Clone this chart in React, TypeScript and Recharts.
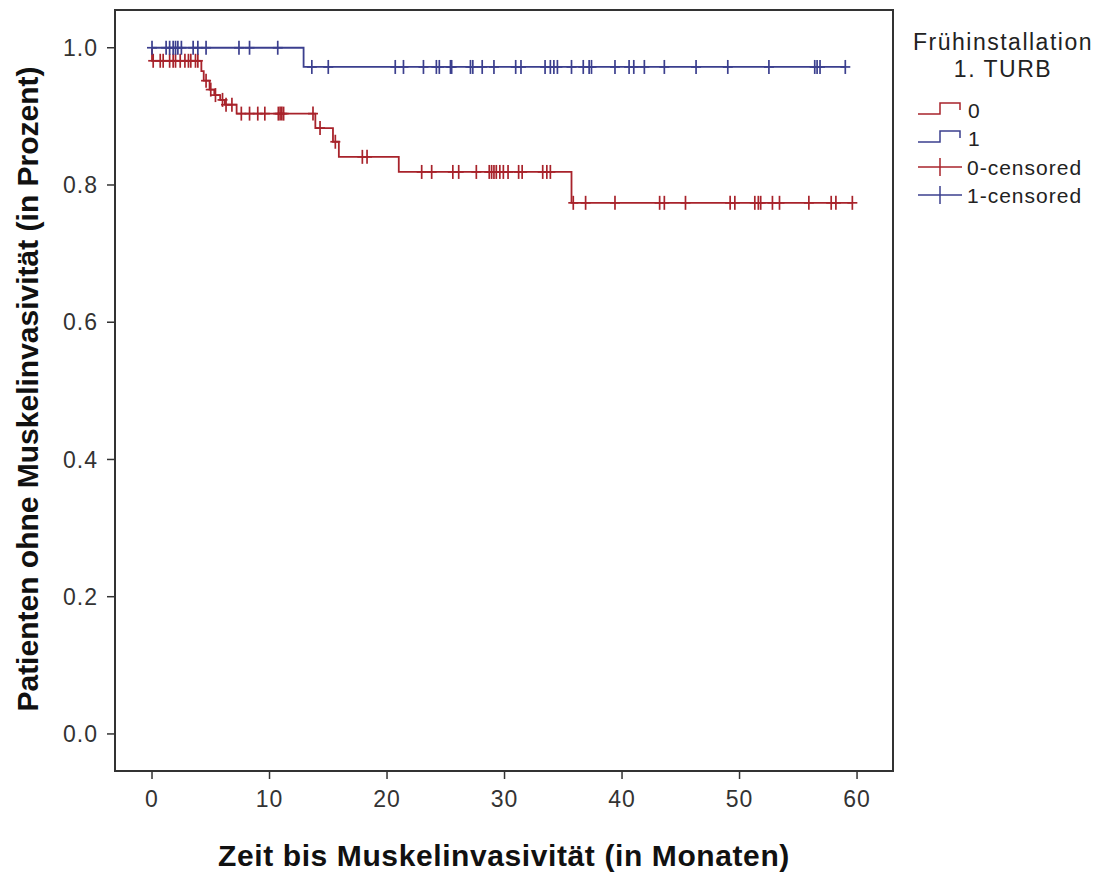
import { ComposedChart, Line, Scatter, XAxis, YAxis, ReferenceArea } from "recharts";

// Achsen
const xTicks = [0, 10, 20, 30, 40, 50, 60];
const yTicks = [0, 0.2, 0.4, 0.6, 0.8, 1.0];
const xDomain = [-3.15, 63.06];
const yDomain = [-0.054, 1.055];

// Gruppe 0: Stufen (Zeit, Überleben)
const group0StepTimes = [0, 0, 4.2, 4.4, 4.9, 5.3, 5.8, 6.2, 7.2, 13.9, 15.4, 15.9, 21.0, 35.7, 59.6];
const group0StepSurv = [1.0, 0.981, 0.966, 0.952, 0.939, 0.931, 0.924, 0.917, 0.904, 0.883, 0.863, 0.841, 0.819, 0.774, 0.774];
// Gruppe 0: zensierte Fälle
const group0Censored = [
  0.1, 0.7, 0.95, 1.5, 1.8, 2.0, 2.4, 2.8, 3.1, 3.3, 3.7, 3.9,
  4.6, 5.0, 5.4, 6.0, 6.3, 6.8,
  7.6, 8.3, 9.0, 9.6, 10.75, 10.9, 11.05, 11.2, 13.7,
  14.3, 15.6, 17.9, 18.3,
  22.95, 23.8, 25.6, 26.1, 27.6, 28.7, 28.9, 29.1, 29.3, 29.6, 29.9, 30.3, 31.2, 31.5, 33.25, 33.6, 33.9,
  35.85, 36.9, 39.4, 43.2, 43.6, 45.4, 49.2, 49.6, 51.3, 51.6, 51.8, 52.8, 53.4, 55.9, 57.8, 58.2, 59.6,
];

// Gruppe 1
const group1StepTimes = [0, 12.9, 59.0];
const group1StepSurv = [1.0, 0.972, 0.972];
const group1Censored = [
  0, 1.2, 1.5, 1.8, 2.0, 2.2, 2.5, 3.5, 3.9, 4.6, 7.4, 8.3, 10.7,
  13.6, 15.0, 20.7, 21.4, 23.1, 24.2, 24.45, 25.4, 25.5, 27.1, 27.3, 28.1, 29.1, 30.95, 31.4,
  33.45, 33.9, 34.2, 34.5, 35.7, 36.7, 37.2, 37.4, 39.4, 40.6, 41.0, 41.9, 43.6, 46.3, 49.0,
  52.5, 56.4, 56.6, 56.85, 59.0,
];

const RED = "#a8232b";
const BLUE = "#3b3f8e";
const FONT = "'Liberation Sans', Arial, sans-serif";

const toSteps = (times: number[], surv: number[]) =>
  times.map((t, i) => ({ t, s: surv[i] }));

// Überleben an Zeitpunkt t (letzte Stufe mit Zeit <= t)
const survAt = (times: number[], surv: number[], t: number) => {
  let s = surv[0];
  for (let i = 0; i < times.length; i++) if (times[i] <= t) s = surv[i];
  return s;
};

const group0Line = toSteps(group0StepTimes, group0StepSurv);
const group1Line = toSteps(group1StepTimes, group1StepSurv);
const group0Marks = group0Censored.map((t) => ({ t, s: survAt(group0StepTimes, group0StepSurv, t) }));
const group1Marks = group1Censored.map((t) => ({ t, s: survAt(group1StepTimes, group1StepSurv, t) }));

const plusShape = (color: string) => (props: any) => {
  const { cx, cy } = props;
  return (
    <g>
      <line x1={cx - 5} y1={cy} x2={cx + 5} y2={cy} stroke={color} strokeWidth={1.7} />
      <line x1={cx} y1={cy - 7} x2={cx} y2={cy + 7} stroke={color} strokeWidth={1.7} />
    </g>
  );
};

const tickStyle = { fill: "#333", fontSize: 23, fontFamily: FONT, letterSpacing: 1 };

export default function App() {
  return (
    <div style={{ position: "absolute", left: 0, top: 0, width: 1105, height: 872, background: "#fff" }}>
      <ComposedChart
        width={1105}
        height={872}
        margin={{ top: 10, right: 212, bottom: 0, left: 0 }}
      >
        <XAxis
          type="number"
          dataKey="t"
          domain={xDomain}
          allowDataOverflow
          ticks={xTicks}
          height={101}
          axisLine={false}
          tickLine={{ stroke: "#333", strokeWidth: 1.5 }}
          tickSize={8}
          tickMargin={12}
          tick={tickStyle}
        />
        <YAxis
          type="number"
          dataKey="s"
          domain={yDomain}
          allowDataOverflow
          ticks={yTicks}
          width={115}
          axisLine={false}
          tickLine={{ stroke: "#333", strokeWidth: 1.5 }}
          tickSize={8}
          tickMargin={9}
          tick={tickStyle}
          tickFormatter={(v: number) => v.toFixed(1)}
        />
        <ReferenceArea
          x1={xDomain[0]}
          x2={xDomain[1]}
          y1={yDomain[0]}
          y2={yDomain[1]}
          fill="none"
          stroke="#333"
          strokeWidth={2}
          ifOverflow="visible"
        />
        <Line
          data={group0Line}
          dataKey="s"
          type="stepAfter"
          stroke={RED}
          strokeWidth={1.8}
          dot={false}
          activeDot={false}
          isAnimationActive={false}
        />
        <Line
          data={group1Line}
          dataKey="s"
          type="stepAfter"
          stroke={BLUE}
          strokeWidth={1.8}
          dot={false}
          activeDot={false}
          isAnimationActive={false}
        />
        <Scatter data={group0Marks} dataKey="s" shape={plusShape(RED)} isAnimationActive={false} />
        <Scatter data={group1Marks} dataKey="s" shape={plusShape(BLUE)} isAnimationActive={false} />
      </ComposedChart>

      {/* Achsentitel und Legende */}
      <svg
        style={{ position: "absolute", left: 0, top: 0 }}
        width={1105}
        height={872}
        fontFamily={FONT}
      >
        <text x={504} y={866} textAnchor="middle" fontSize={30} fontWeight="bold" letterSpacing={0.6} fill="#111">
          Zeit bis Muskelinvasivität (in Monaten)
        </text>
        <text
          transform="translate(38,389) rotate(-90)"
          textAnchor="middle"
          fontSize={30}
          fontWeight="bold"
          fill="#111"
        >
          Patienten ohne Muskelinvasivität (in Prozent)
        </text>

        <text x={1003} y={50} textAnchor="middle" fontSize={23} letterSpacing={1.5} fill="#222">
          Frühinstallation
        </text>
        <text x={1003} y={77} textAnchor="middle" fontSize={23} letterSpacing={1.5} fill="#222">
          1. TURB
        </text>

        <polyline points="918,114 940,114 940,103 960,103 960,110" fill="none" stroke={RED} strokeWidth={1.5} />
        <text x={968} y={118} fontSize={21} letterSpacing={1} fill="#222">0</text>

        <polyline points="918,142 940,142 940,131 960,131 960,138" fill="none" stroke={BLUE} strokeWidth={1.5} />
        <text x={968} y={146} fontSize={21} letterSpacing={1} fill="#222">1</text>

        <line x1={918} y1={167} x2={962} y2={167} stroke={RED} strokeWidth={1.5} />
        <line x1={940} y1={158} x2={940} y2={176} stroke={RED} strokeWidth={1.5} />
        <text x={967} y={175} fontSize={21} letterSpacing={1} fill="#222">0-censored</text>

        <line x1={918} y1={195} x2={962} y2={195} stroke={BLUE} strokeWidth={1.5} />
        <line x1={940} y1={186} x2={940} y2={204} stroke={BLUE} strokeWidth={1.5} />
        <text x={967} y={203} fontSize={21} letterSpacing={1} fill="#222">1-censored</text>
      </svg>
    </div>
  );
}
